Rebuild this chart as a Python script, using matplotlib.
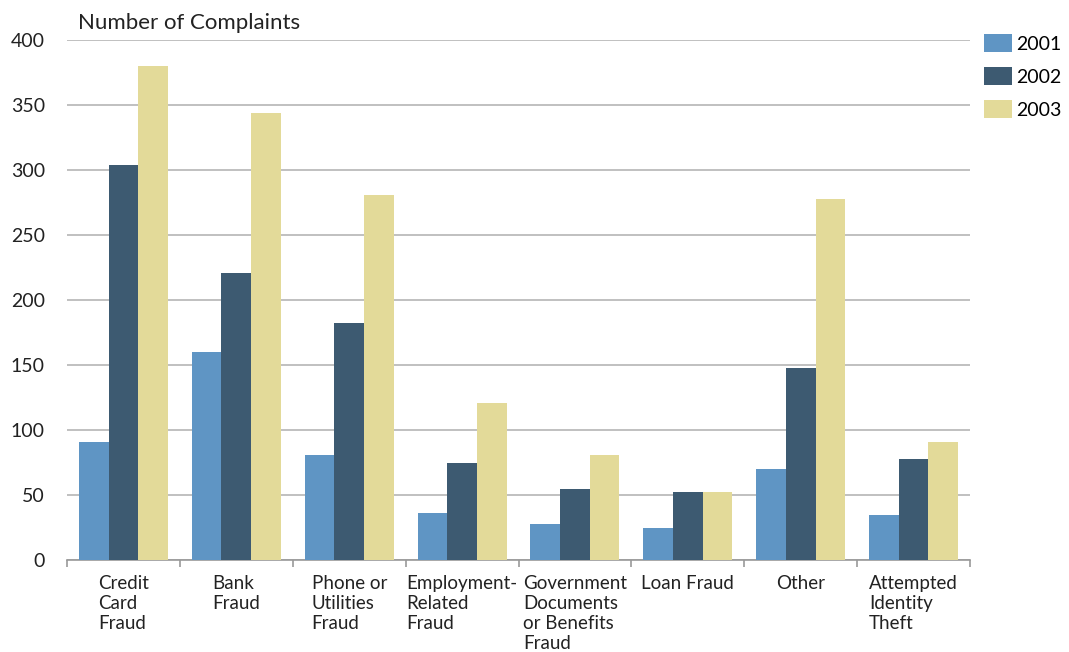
import numpy as np
import matplotlib.pyplot as plt

categories = ['Credit\nCard\nFraud', 'Bank\nFraud', 'Phone or\nUtilities\nFraud',
              'Employment-\nRelated\nFraud', 'Government\nDocuments\nor Benefits\nFraud',
              'Loan Fraud', 'Other', 'Attempted\nIdentity\nTheft']
years = ['2001', '2002', '2003']
vals_2001 = [91, 160, 81, 36, 28, 25, 70, 35]
vals_2002 = [304, 221, 182, 75, 55, 52, 148, 78]
vals_2003 = [380, 344, 281, 121, 81, 52, 278, 91]
colors = ['#5f95c4', '#3d5a71', '#e3da99']

plt.rcParams['font.family'] = ['Lato', 'DejaVu Sans']

fig = plt.figure(figsize=(10.69, 6.52), dpi=100)
ax = fig.add_axes([0.0627, 0.1411, 0.8447, 0.7975])

x = np.arange(len(categories))
w = 0.263
for i, (vals, yr) in enumerate(zip([vals_2001, vals_2002, vals_2003], years)):
    ax.bar(x + (i - 1) * w, vals, width=w, color=colors[i], label=yr, zorder=3)

ax.set_xlim(-0.5, len(categories) - 0.5)
ax.set_ylim(0, 400)
ax.set_yticks(range(0, 401, 50))
ax.yaxis.grid(True, color='#b5b5b5', linewidth=1.2, zorder=0)
ax.tick_params(axis='y', length=0, labelsize=14, pad=16, labelcolor='#222222')

ax.set_xticks(x)
ax.set_xticklabels(categories, fontsize=13.5, multialignment='left',
                   linespacing=1.2, color='#222222')
ax.tick_params(axis='x', which='major', length=0, pad=11)
ax.set_xticks(np.arange(-0.5, len(categories), 1), minor=True)
ax.tick_params(axis='x', which='minor', length=5, color='#999999', width=1.2)

for s in ['left', 'right', 'top']:
    ax.spines[s].set_visible(False)
ax.spines['bottom'].set_color('#999999')
ax.spines['bottom'].set_linewidth(1.2)

fig.text(0.073, 0.955, 'Number of Complaints', fontsize=16, color='#222222')

ax.legend(loc='upper left', bbox_to_anchor=(0.9205, 0.948),
          bbox_transform=fig.transFigure, frameon=False, borderpad=0,
          borderaxespad=0, fontsize=14, handlelength=1.45, handleheight=1.05,
          handletextpad=0.2, labelspacing=0.75)

fig.savefig('out.png', dpi=100)
